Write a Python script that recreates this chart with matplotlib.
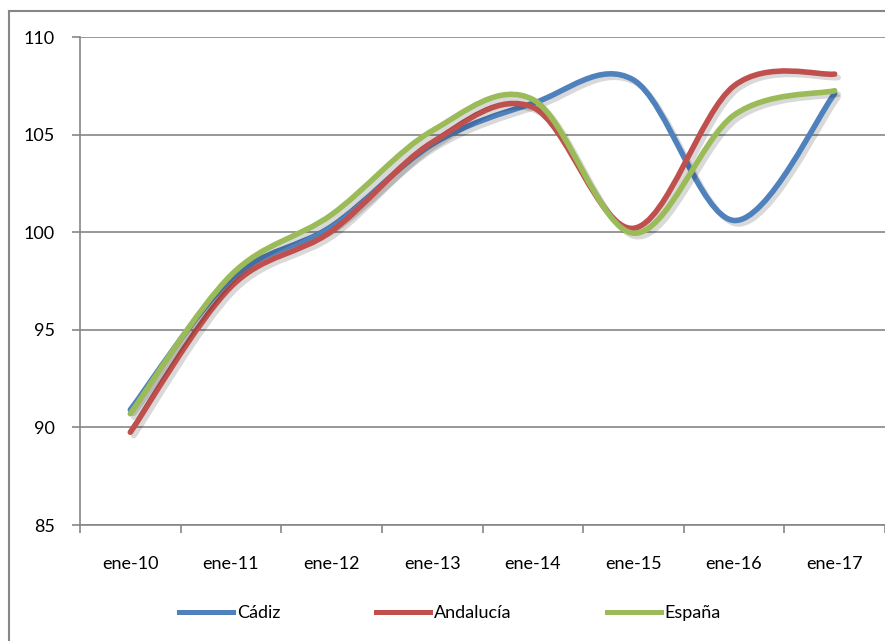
import matplotlib
matplotlib.use("Agg")
import matplotlib.pyplot as plt
import matplotlib.patheffects as pe
from matplotlib.path import Path
from matplotlib.patches import PathPatch
from matplotlib.lines import Line2D
import numpy as np

# Index values per year (January)
fechas = ["ene-10", "ene-11", "ene-12", "ene-13", "ene-14", "ene-15", "ene-16", "ene-17"]
cadiz = [90.9, 97.6, 100.3, 104.5, 106.6, 107.8, 100.6, 107.1]
andalucia = [89.75, 97.2, 100.05, 104.6, 106.4, 100.2, 107.5, 108.1]
espana = [90.7, 97.8, 100.9, 105.2, 106.8, 99.95, 106.0, 107.25]

series = [("Cádiz", cadiz, "#4F81BD"),
          ("Andalucía", andalucia, "#C0504D"),
          ("España", espana, "#9BBB59")]

plt.rcParams["font.family"] = ["Lato", "DejaVu Sans"]
gris = "#868686"


def smooth_path(ys):
    # Excel-like smoothed line (Catmull-Rom as cubic Bezier)
    pts = np.column_stack([np.arange(len(ys)), ys]).astype(float)
    n = len(pts)
    verts = [pts[0]]
    codes = [Path.MOVETO]
    for i in range(n - 1):
        p0 = pts[max(i - 1, 0)]
        p1 = pts[i]
        p2 = pts[i + 1]
        p3 = pts[min(i + 2, n - 1)]
        verts += [p1 + (p2 - p0) / 6, p2 - (p3 - p1) / 6, p2]
        codes += [Path.CURVE4] * 3
    return Path(verts, codes)


fig = plt.figure(figsize=(8.85, 6.41), dpi=100)
ax = fig.add_axes([80 / 885, 1 - 525 / 641, 1 - 80 / 885, (525 - 37) / 641])

sombra = [pe.SimpleLineShadow(offset=(2.5, -2.5), shadow_color="k", alpha=0.15),
          pe.Normal()]
handles = []
for nombre, vals, color in series:
    patch = PathPatch(smooth_path(vals), fill=False, edgecolor=color, lw=4.0,
                      capstyle="round", joinstyle="round", path_effects=sombra)
    ax.add_patch(patch)
    handles.append(Line2D([], [], color=color, lw=3.6))

ax.set_xlim(-0.5, len(fechas) - 0.5)
ax.set_ylim(85, 110)
ax.set_yticks(range(85, 111, 5))
ax.set_xticks(range(len(fechas)))
ax.set_xticklabels(fechas)
ax.set_xticks(np.arange(-0.5, len(fechas), 1), minor=True)
ax.tick_params(axis="x", which="major", length=0, pad=22, labelsize=13)
ax.tick_params(axis="x", which="minor", length=6, color=gris, width=1.2)
ax.tick_params(axis="y", length=6, color=gris, width=1.2, pad=12, labelsize=13)

ax.yaxis.grid(True, color=gris, lw=1.2)
ax.set_axisbelow(True)
for s in ["top", "right"]:
    ax.spines[s].set_visible(False)
for s in ["left", "bottom"]:
    ax.spines[s].set_color(gris)
    ax.spines[s].set_linewidth(1.2)

# chart border (top and left visible)
fig.add_artist(Line2D([9 / 885, 9 / 885], [0, 1 - 11 / 641], color=gris, lw=1.5))
fig.add_artist(Line2D([9 / 885, 1], [1 - 11 / 641, 1 - 11 / 641], color=gris, lw=1.5))

fig.legend(handles, [s[0] for s in series], loc="center",
           bbox_to_anchor=(450 / 885, 1 - 613 / 641), ncol=3, frameon=False,
           handlelength=3.0, columnspacing=5.3, handletextpad=0.2, fontsize=13)

fig.savefig("out.png", dpi=100)
